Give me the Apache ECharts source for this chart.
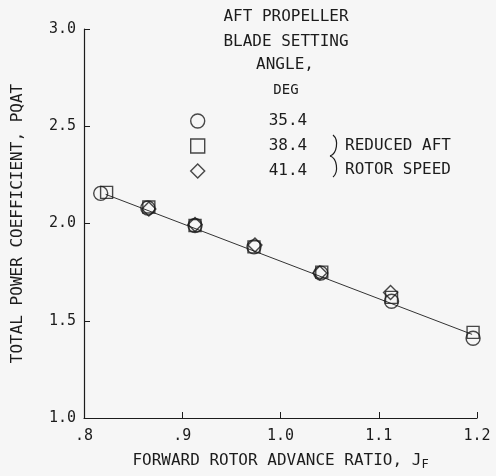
<!DOCTYPE html>
<html lang="en">
<head>
    <meta charset="UTF-8">
    <title>Total power coefficient</title>
    <style>
        *{margin:0;padding:0;box-sizing:border-box;}
        html, body{width:100%;height:100%;background:#f6f6f6;}
        #myChart{width:496px;height:476px;}
    </style>
</head>
<body>
<div id="myChart"></div>
<script src="https://cdn.jsdelivr.net/npm/echarts@6/dist/echarts.min.js"></script>
<script>
    // blade setting angles (deg)
    var angleNames = ['35.4', '38.4', '41.4'];
    var symbols = ['circle', 'rect', 'diamond'];

    // [advance ratio J_F, PQAT]
    var pts354 = [[0.817, 2.155], [0.865, 2.080], [0.913, 1.990], [0.973, 1.880], [1.041, 1.745], [1.113, 1.600], [1.196, 1.410]];
    var pts384 = [[0.823, 2.160], [0.866, 2.085], [0.913, 1.990], [0.973, 1.880], [1.042, 1.750], [1.113, 1.620], [1.196, 1.440]];
    var pts414 = [[0.866, 2.075], [0.913, 1.995], [0.974, 1.890], [1.040, 1.745], [1.112, 1.645]];
    var fitLine = [[0.822, 2.150], [1.195, 1.430]];

    var xTicks = [0.8, 0.9, 1.0, 1.1, 1.2];
    var yTicks = [1.0, 1.5, 2.0, 2.5, 3.0];

    var font = 'DejaVu Sans Mono, Liberation Mono, monospace';
    var ink = '#1c1c1c';

    var myChart = echarts.init(document.getElementById('myChart'));

    var dataSets = [pts354, pts384, pts414];
    var series = dataSets.map(function (d, i) {
        return {
            name: angleNames[i],
            type: 'scatter',
            data: d,
            symbol: symbols[i],
            symbolSize: i === 1 ? 12 : 14,
            itemStyle: {color: 'rgba(0,0,0,0)', borderColor: ink, borderWidth: 1.4},
            z: 3
        };
    });
    series.push({
        name: 'fit',
        type: 'line',
        data: fitLine,
        showSymbol: false,
        lineStyle: {color: '#333', width: 1},
        z: 2
    });

    var option = {
        backgroundColor: '#f6f6f6',
        animation: false,
        grid: {left: 84, right: 19, top: 29, bottom: 58},
        legend: {
            orient: 'vertical',
            left: 185,
            top: 108,
            itemGap: 9,
            itemWidth: 14,
            itemHeight: 14,
            data: angleNames.map(function (n, i) {
                return {name: n, icon: symbols[i]};
            }),
            itemStyle: {color: 'rgba(0,0,0,0)', borderColor: ink, borderWidth: 1.4},
            textStyle: {fontFamily: font, fontSize: 16, color: ink, padding: [0, 0, 0, 59]},
            selectedMode: false
        },
        xAxis: {
            type: 'value',
            min: xTicks[0],
            max: xTicks[xTicks.length - 1],
            interval: 0.1,
            name: 'FORWARD ROTOR ADVANCE RATIO, J{sub|F}',
            nameLocation: 'middle',
            nameGap: 33,
            nameTextStyle: {
                fontFamily: font, fontSize: 16, color: ink,
                rich: {sub: {fontFamily: font, fontSize: 12, color: ink, verticalAlign: 'bottom', padding: [8, 0, 0, 0]}}
            },
            axisLine: {show: true, lineStyle: {color: ink, width: 1.2}},
            axisTick: {inside: true, length: 6, lineStyle: {color: ink}},
            splitLine: {show: false},
            axisLabel: {
                fontFamily: font, fontSize: 15, color: ink, margin: 11,
                formatter: function (v) {
                    var s = v.toFixed(1);
                    return v < 1 ? s.replace('0.', '.') : s;
                }
            }
        },
        yAxis: {
            type: 'value',
            min: yTicks[0],
            max: yTicks[yTicks.length - 1],
            interval: 0.5,
            name: 'TOTAL POWER COEFFICIENT, PQAT',
            nameLocation: 'middle',
            nameGap: 58,
            nameTextStyle: {fontFamily: font, fontSize: 16, color: ink},
            axisLine: {show: true, lineStyle: {color: ink, width: 1.2}},
            axisTick: {inside: true, length: 6, lineStyle: {color: ink}},
            splitLine: {show: false},
            axisLabel: {
                fontFamily: font, fontSize: 15, color: ink, margin: 8,
                formatter: function (v) { return v.toFixed(1); }
            }
        },
        graphic: [
            {type: 'text', x: 286, y: 17, style: {text: 'AFT PROPELLER', font: '16px ' + font, fill: ink, textAlign: 'center', textVerticalAlign: 'middle'}},
            {type: 'text', x: 286, y: 42, style: {text: 'BLADE SETTING', font: '16px ' + font, fill: ink, textAlign: 'center', textVerticalAlign: 'middle'}},
            {type: 'text', x: 285, y: 65, style: {text: 'ANGLE,', font: '16px ' + font, fill: ink, textAlign: 'center', textVerticalAlign: 'middle'}},
            {type: 'text', x: 286, y: 90, style: {text: 'DEG', font: '14px ' + font, fill: ink, textAlign: 'center', textVerticalAlign: 'middle'}},
            {type: 'bezierCurve', shape: {x1: 333, y1: 135, cpx1: 339, cpy1: 140, cpx2: 337, cpy2: 154, x2: 330, y2: 156},
                style: {fill: null, stroke: ink, lineWidth: 1.2}},
            {type: 'bezierCurve', shape: {x1: 330, y1: 156, cpx1: 337, cpy1: 158, cpx2: 339, cpy2: 172, x2: 333, y2: 177},
                style: {fill: null, stroke: ink, lineWidth: 1.2}},
            {type: 'text', x: 345, y: 146, style: {text: 'REDUCED AFT', font: '16px ' + font, fill: ink, textVerticalAlign: 'middle'}},
            {type: 'text', x: 345, y: 170, style: {text: 'ROTOR SPEED', font: '16px ' + font, fill: ink, textVerticalAlign: 'middle'}}
        ],
        series: series
    };
    myChart.setOption(option);
</script>
</body>
</html>
